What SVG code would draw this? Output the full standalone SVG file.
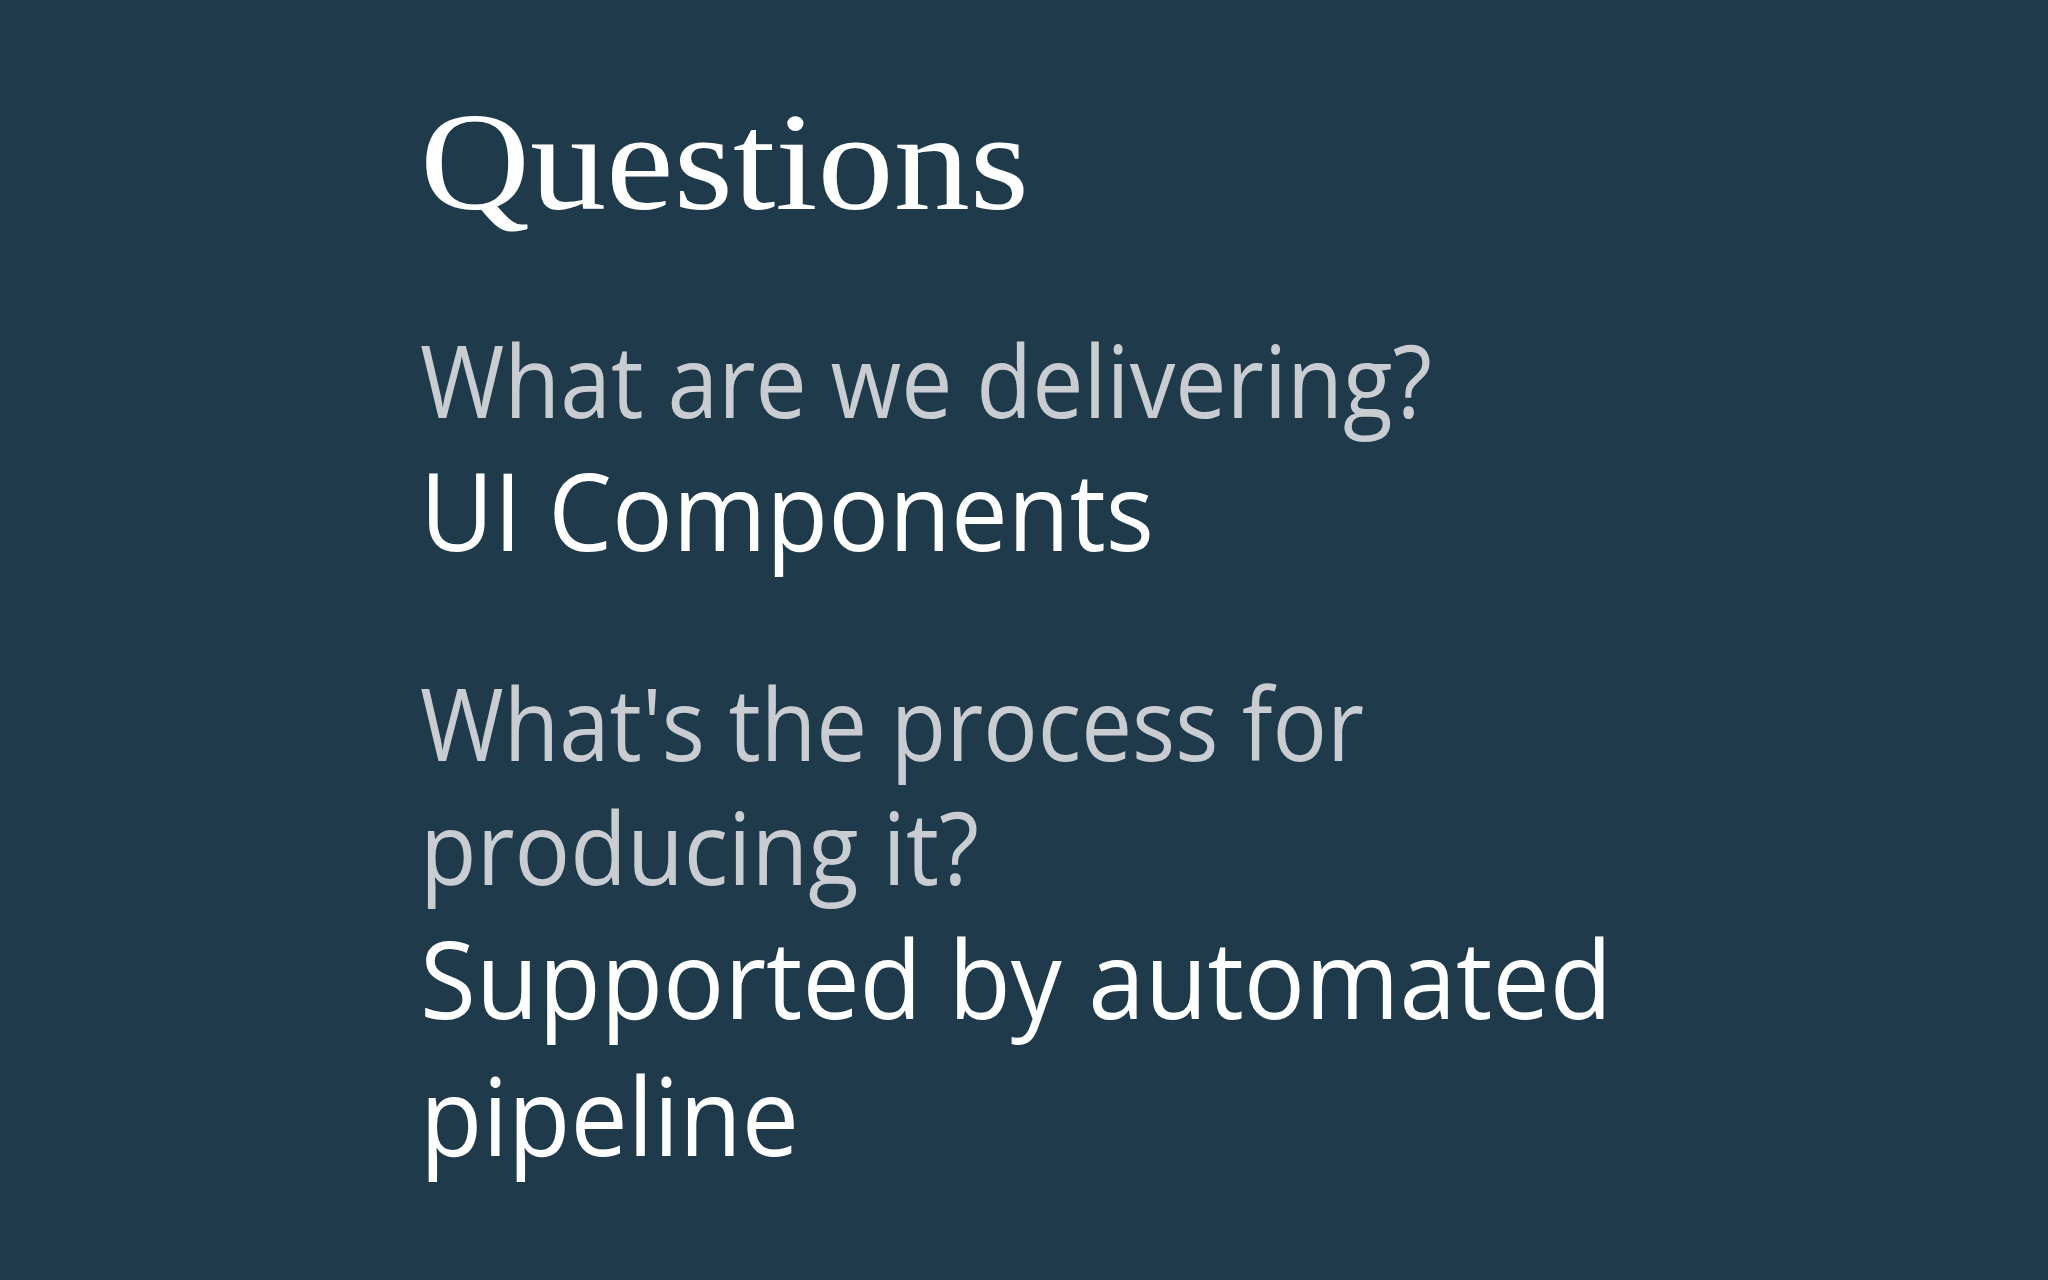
<svg xmlns="http://www.w3.org/2000/svg" width="2048" height="1280" viewBox="0 0 2048 1280">
<style>
.t{font-family:"Liberation Serif",serif;fill:#ffffff}
.q{font-family:"Open Sans","Noto Sans",sans-serif;fill:#c9ccd1;font-size:100px}
.a{font-family:"Open Sans","Noto Sans",sans-serif;fill:#ffffff;font-size:108px}
</style>
<rect width="2048" height="1280" fill="#1f3a4b"/>
<g id="title"><text class="t" x="420" y="209" font-size="140" textLength="609" lengthAdjust="spacingAndGlyphs">Questions</text></g>
<g id="q1"><text class="q" x="420" y="418" textLength="1012" lengthAdjust="spacingAndGlyphs">What are we delivering?</text></g>
<g id="a1"><text class="a" x="420" y="551" textLength="734" lengthAdjust="spacingAndGlyphs">UI Components</text></g>
<g id="q2"><text class="q" x="420" y="761" textLength="944" lengthAdjust="spacingAndGlyphs">What's the process for</text>
<text class="q" x="420" y="885" textLength="559" lengthAdjust="spacingAndGlyphs">producing it?</text></g>
<g id="a2"><text class="a" x="420" y="1019" textLength="1192" lengthAdjust="spacingAndGlyphs">Supported by automated</text>
<text class="a" x="420" y="1156" textLength="379" lengthAdjust="spacingAndGlyphs">pipeline</text></g>
<g id="connectors"/>
</svg>
